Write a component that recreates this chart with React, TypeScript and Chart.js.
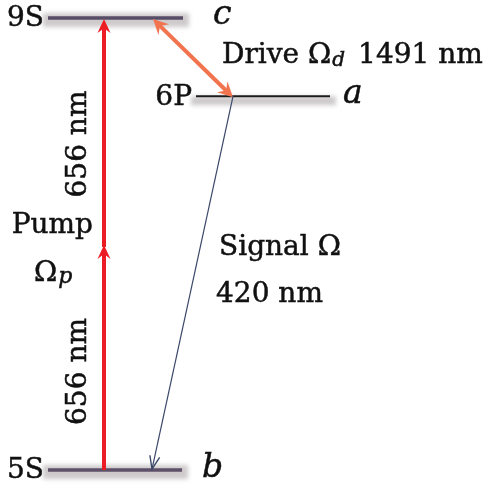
import React, { useEffect, useRef } from "react";
import { Chart, registerables } from "chart.js";

Chart.register(...registerables);

// ---- Diagram data (energy in arbitrary diagram units, horizontal position in diagram units) ----
const levelNames = ["5S", "6P", "9S"];
const levelStates = ["b", "a", "c"];
const levelEnergies = [0, 82.7, 100];
const levelXStart = [48, 196, 48];
const levelXEnd = [182, 330, 183];

const pumpX = [104, 104];
const pumpEnergies = [0, 49.8, 100]; // 5S -> virtual -> 9S
const pumpWavelengths = ["656 nm", "656 nm"];

const driveX = [153, 233]; // 9S end, 6P end
const driveEnergies = [100, 82.7];
const driveLabel = ["Drive Ω", "d", "1491 nm"];

const signalX = [233, 152]; // 6P -> 5S
const signalEnergies = [82.7, 0];
const signalLabel = ["Signal Ω", "420 nm"];

const pumpLabel = ["Pump", "Ω", "p"];

const FONT = '"DejaVu Serif", "Liberation Serif", serif';

function arrowHead(
  ctx: CanvasRenderingContext2D,
  fx: number, fy: number, tx: number, ty: number,
  len: number, half: number, color: string, filled: boolean, lw = 1.3
) {
  const a = Math.atan2(ty - fy, tx - fx);
  const bx = tx - len * Math.cos(a);
  const by = ty - len * Math.sin(a);
  const nx = -Math.sin(a) * half;
  const ny = Math.cos(a) * half;
  ctx.beginPath();
  ctx.moveTo(bx + nx, by + ny);
  ctx.lineTo(tx, ty);
  ctx.lineTo(bx - nx, by - ny);
  if (filled) {
    ctx.lineTo(bx + 0.35 * len * Math.cos(a), by + 0.35 * len * Math.sin(a));
    ctx.closePath();
    ctx.fillStyle = color;
    ctx.fill();
  } else {
    ctx.strokeStyle = color;
    ctx.lineWidth = lw;
    ctx.stroke();
  }
}

function line(ctx: CanvasRenderingContext2D, x0: number, y0: number, x1: number, y1: number, color: string, w: number) {
  ctx.beginPath();
  ctx.moveTo(x0, y0);
  ctx.lineTo(x1, y1);
  ctx.strokeStyle = color;
  ctx.lineWidth = w;
  ctx.lineCap = "butt";
  ctx.stroke();
}

function shorten(x0: number, y0: number, x1: number, y1: number, d: number) {
  const L = Math.hypot(x1 - x0, y1 - y0);
  return [x1 - ((x1 - x0) / L) * d, y1 - ((y1 - y0) / L) * d];
}

function txt(ctx: CanvasRenderingContext2D, s: string, x: number, y: number) {
  ctx.fillText(s, x, y);
  ctx.strokeText(s, x, y);
}

const diagramPlugin = {
  id: "diagram",
  beforeDatasetsDraw(chart: any) {
    const { ctx } = chart;
    const xs = chart.scales.x;
    const ys = chart.scales.y;
    ctx.save();
    ctx.filter = "blur(2px)";
    levelEnergies.forEach((e, i) => {
      const py = ys.getPixelForValue(e);
      const x0 = xs.getPixelForValue(levelXStart[i]) - 5;
      const x1 = xs.getPixelForValue(levelXEnd[i]) + 6;
      const top = i === 1 ? py : py - 5;
      const bot = py + 9;
      ctx.fillStyle = "rgba(165,158,163,0.55)";
      ctx.fillRect(x0, top, x1 - x0, bot - top);
    });
    ctx.restore();
  },
  afterDatasetsDraw(chart: any) {
    const { ctx } = chart;
    const xs = chart.scales.x;
    const ys = chart.scales.y;
    const X = (v: number) => xs.getPixelForValue(v);
    const Y = (v: number) => ys.getPixelForValue(v);
    ctx.save();

    // Pump (two-photon, 656 nm each)
    const red = "#ec1c24";
    const pb = Y(pumpEnergies[0]);
    const pv = Y(pumpEnergies[1]);
    const pt = Y(pumpEnergies[2]) + 1;
    const px0 = X(pumpX[0]);
    line(ctx, px0, pb, px0, pv + 9, red, 4);
    arrowHead(ctx, px0, pb, px0, pv, 14, 6.5, red, true);
    line(ctx, px0, pv + 2, px0, pt + 9, red, 4);
    arrowHead(ctx, px0, pv, px0, pt, 14, 6.5, red, true);

    // Drive (double arrow)
    const orange = "#f2744f";
    const dx0 = X(driveX[0]), dy0 = Y(driveEnergies[0]) + 1;
    const dx1 = X(driveX[1]), dy1 = Y(driveEnergies[1]) + 1;
    const [sx0, sy0] = shorten(dx1, dy1, dx0, dy0, 9);
    const [sx1, sy1] = shorten(dx0, dy0, dx1, dy1, 9);
    line(ctx, sx0, sy0, sx1, sy1, orange, 4);
    arrowHead(ctx, dx1, dy1, dx0, dy0, 15, 7.5, orange, true);
    arrowHead(ctx, dx0, dy0, dx1, dy1, 15, 7.5, orange, true);

    // Signal
    const slate = "#3b4869";
    const gx0 = X(signalX[0]), gy0 = Y(signalEnergies[0]);
    const gx1 = X(signalX[1]), gy1 = Y(signalEnergies[1]) - 1;
    line(ctx, gx0, gy0, gx1, gy1, slate, 1.2);
    arrowHead(ctx, gx0, gy0, gx1, gy1, 13, 5, slate, false, 1.4);

    // Texts
    ctx.fillStyle = "#111";
    ctx.strokeStyle = "#111";
    ctx.lineWidth = 0.5;
    ctx.textBaseline = "alphabetic";
    const big = `28px ${FONT}`;

    // Level names and state letters
    const stateOffsets = [20, 13, 30];
    const stateBase = [7, 7, 6];
    levelEnergies.forEach((e, i) => {
      const py = Y(e);
      ctx.font = big;
      ctx.textAlign = "right";
      ctx.textBaseline = "middle";
      txt(ctx, levelNames[i], X(levelXStart[i]) - 4, py + 1);
      ctx.textBaseline = "alphabetic";
      ctx.textAlign = "left";
      ctx.font = `italic 33px ${FONT}`;
      txt(ctx, levelStates[i], X(levelXEnd[i]) + stateOffsets[i], py + stateBase[i]);
    });

    // 656 nm labels (rotated)
    ctx.font = big;
    ctx.textAlign = "center";
    ctx.textBaseline = "middle";
    const mids = [(pb + pv) / 2 + 14, (pv + pt) / 2 + 12];
    mids.forEach((m, i) => {
      ctx.save();
      ctx.translate(px0 - 25, m);
      ctx.rotate(-Math.PI / 2);
      txt(ctx, pumpWavelengths[i], 0, 0);
      ctx.restore();
    });

    // Pump label
    ctx.textBaseline = "alphabetic";
    ctx.textAlign = "right";
    txt(ctx, pumpLabel[0], px0 - 11, pv - 12);
    ctx.textAlign = "left";
    const omX = 34;
    txt(ctx, pumpLabel[1], omX, pv + 36);
    const omW = ctx.measureText(pumpLabel[1]).width;
    ctx.font = `italic 22px ${FONT}`;
    txt(ctx, pumpLabel[2], omX + omW + 1, pv + 38);

    // Drive label
    ctx.font = big;
    const dlx = (dx0 + dx1) / 2 + 29;
    const dly = (dy0 + dy1) / 2 + 5;
    txt(ctx, driveLabel[0], dlx, dly);
    const w = ctx.measureText(driveLabel[0]).width;
    ctx.font = `italic 20px ${FONT}`;
    txt(ctx, driveLabel[1], dlx + w + 1, dly + 3);
    const w2 = ctx.measureText(driveLabel[1]).width;
    ctx.font = big;
    txt(ctx, driveLabel[2], dlx + w + w2 + 14, dly);

    // Signal label
    txt(ctx, signalLabel[0], 219, Y(signalEnergies[0]) + 159);
    txt(ctx, signalLabel[1], 216, Y(signalEnergies[0]) + 206);

    ctx.restore();
  },
};

export default function App() {
  const ref = useRef<HTMLCanvasElement | null>(null);
  useEffect(() => {
    if (!ref.current) return;
    const levelColors = ["#5d5068", "#1c1c1c", "#574d66"];
    const levelWidths = [3.5, 2, 3.5];
    const datasets = levelNames.map((n, i) => ({
      label: n,
      data: [
        { x: levelXStart[i], y: levelEnergies[i] },
        { x: levelXEnd[i], y: levelEnergies[i] },
      ],
      showLine: true,
      borderColor: levelColors[i],
      borderWidth: levelWidths[i],
      pointRadius: 0,
    }));
    const chart = new Chart(ref.current, {
      type: "scatter",
      data: { datasets },
      options: {
        animation: false,
        responsive: false,
        devicePixelRatio: 1,
        layout: { padding: 0 },
        plugins: { legend: { display: false }, tooltip: { enabled: false } },
        scales: {
          x: { type: "linear", min: 0, max: 493, display: false },
          y: { type: "linear", min: -4.2, max: 104, display: false },
        },
      },
      plugins: [diagramPlugin],
    } as any);
    return () => chart.destroy();
  }, []);
  return (
    <div style={{ position: "fixed", left: 0, top: 0, width: 493, height: 489, background: "#fff" }}>
      <canvas ref={ref} width={493} height={489} />
    </div>
  );
}
